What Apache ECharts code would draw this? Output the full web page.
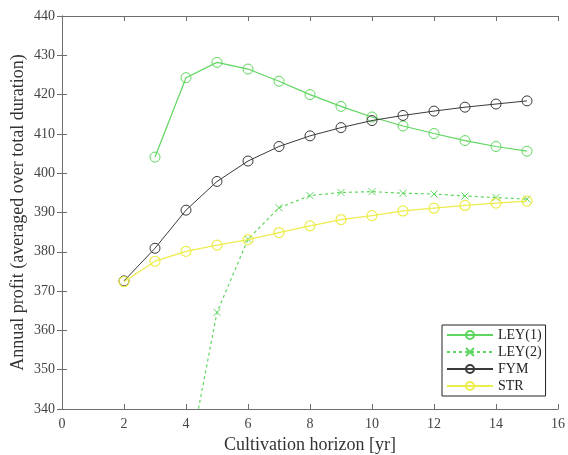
<!DOCTYPE html>
<html>
<head>
<meta charset="utf-8">
<script src="https://cdn.jsdelivr.net/npm/echarts@6/dist/echarts.min.js"></script>
<style>html,body{margin:0;padding:0;background:#fff}#c{width:568px;height:455px}</style>
</head>
<body>
<div id="c"></div>
<script>
var xLey1 = [3,4,5,6,7,8,9,10,11,12,13,14,15];
var ley1 = [404.1,424.3,428.2,426.5,423.4,420.0,417.0,414.3,412.0,410.1,408.3,406.8,405.6];
var xLey2 = [4,5,6,7,8,9,10,11,12,13,14,15];
var ley2 = [323.6,364.6,383.2,391.2,394.3,395.1,395.3,394.9,394.7,394.2,393.8,393.4];
var xFym = [2,3,4,5,6,7,8,9,10,11,12,13,14,15];
var fym = [372.6,380.9,390.6,397.9,403.1,406.8,409.5,411.6,413.4,414.7,415.8,416.8,417.6,418.4];
var xStr = [2,3,4,5,6,7,8,9,10,11,12,13,14,15];
var str = [372.4,377.6,380.1,381.7,383.1,384.9,386.6,388.2,389.2,390.4,391.1,391.8,392.4,392.9];
var names = ['LEY(1)','LEY(2)','FYM','STR'];

function pairs(xs, ys){ return xs.map(function(x,i){ return [x, ys[i]]; }); }

var font = 'Liberation Serif';
var axisCol = '#6e6e6e';
var green = '#5fd65f', black = '#3a3a3a', yellow = '#ecec4c';
var xPath = 'path://M0,0L10,10M10,0L0,10';

function hiddenAxis(base){
  return Object.assign({
    axisLabel:{show:false}, splitLine:{show:false},
    axisLine:{show:true, lineStyle:{color:axisCol}},
    axisTick:{show:true, inside:true, length:5, lineStyle:{color:axisCol}}
  }, base);
}

var chart = echarts.init(document.getElementById('c'));
chart.setOption({
  animation:false,
  backgroundColor:'#fff',
  textStyle:{fontFamily:font},
  grid:{left:62, right:10, top:16, bottom:46, containLabel:false, outerBoundsMode:'none'},
  xAxis:[{
    type:'value', min:0, max:16, interval:2, position:'bottom',
    name:'Cultivation horizon [yr]', nameLocation:'middle', nameGap:27,
    nameTextStyle:{fontFamily:font, fontSize:18, color:'#333'},
    axisLabel:{fontFamily:font, fontSize:14, color:'#444', margin:8},
    axisLine:{lineStyle:{color:axisCol}},
    axisTick:{inside:true, length:5, lineStyle:{color:axisCol}},
    splitLine:{show:false}
  }, hiddenAxis({type:'value', min:0, max:16, interval:2, position:'top'})],
  yAxis:[{
    type:'value', min:340, max:440, interval:10, position:'left',
    name:'Annual profit (averaged over total duration)', nameLocation:'middle', nameGap:35,
    nameMoveOverlap:false,
    nameTextStyle:{fontFamily:font, fontSize:18, color:'#333'},
    axisLabel:{fontFamily:font, fontSize:14, color:'#444', margin:7},
    axisLine:{show:true, lineStyle:{color:axisCol}},
    axisTick:{show:true, inside:true, length:5, lineStyle:{color:axisCol}},
    splitLine:{show:false}
  }, hiddenAxis({type:'value', min:340, max:440, interval:10, position:'right'})],
  legend:{
    orient:'vertical', left:442, top:325,
    data:names,
    backgroundColor:'#fff', borderColor:'#222', borderWidth:1,
    padding:[3,4,3,4], itemGap:3, itemWidth:46, itemHeight:10,
    textStyle:{fontFamily:font, fontSize:14, color:'#222'}
  },
  series:[
    {name:'LEY(1)', type:'line', data:pairs(xLey1, ley1), symbol:'circle', symbolSize:10,
     lineStyle:{color:green, width:1.2}, itemStyle:{color:'rgba(0,0,0,0)', borderColor:green, borderWidth:1}, z:3},
    {name:'LEY(2)', type:'line', data:pairs(xLey2, ley2), symbol:xPath, symbolSize:7, clip:true,
     lineStyle:{color:green, width:1.2, type:[3,3]}, itemStyle:{color:'rgba(0,0,0,0)', borderColor:green, borderWidth:1}, z:2},
    {name:'FYM', type:'line', data:pairs(xFym, fym), symbol:'circle', symbolSize:10,
     lineStyle:{color:black, width:1}, itemStyle:{color:'rgba(0,0,0,0)', borderColor:black, borderWidth:1}, z:4},
    {name:'STR', type:'line', data:pairs(xStr, str), symbol:'circle', symbolSize:10,
     lineStyle:{color:yellow, width:1.3}, itemStyle:{color:'rgba(0,0,0,0)', borderColor:yellow, borderWidth:1.2}, z:5}
  ]
});
</script>
</body>
</html>
